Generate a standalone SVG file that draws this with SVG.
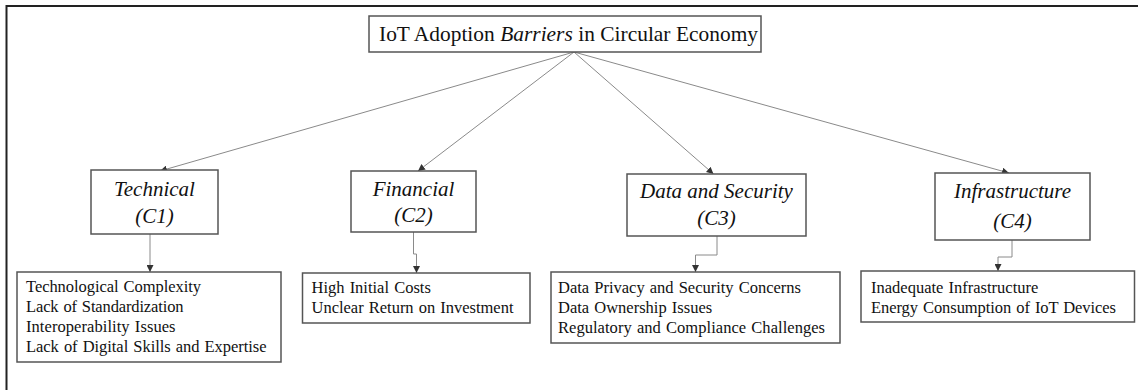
<svg xmlns="http://www.w3.org/2000/svg" width="1138" height="390" viewBox="0 0 1138 390">
<defs>
<style>
.box{fill:#fff;stroke:#555;stroke-width:1.5}
.frame{stroke:#222;stroke-width:2;fill:none}
.conn{stroke:#8a8a8a;stroke-width:1;fill:none}
.t{font-family:"Liberation Serif","Times New Roman",serif;fill:#111}
.title{font-size:21.4px}
.cat{font-size:21px;font-style:italic;text-anchor:middle}
.leaf{font-size:16.5px;word-spacing:1px}
</style>
<marker id="ah" viewBox="0 0 10 10" refX="10" refY="5" markerWidth="7" markerHeight="7" markerUnits="userSpaceOnUse" orient="auto">
<path d="M0,0 L10,5 L0,10 z" fill="#333"/>
</marker>
</defs>
<rect width="1138" height="390" fill="#fff"/>
<path class="frame" d="M6.5,390 V6 H1138"/>
<g id="connectors">
<line class="conn" x1="574" y1="52" x2="160" y2="171" marker-end="url(#ah)"/>
<line class="conn" x1="574" y1="52" x2="418" y2="171" marker-end="url(#ah)"/>
<line class="conn" x1="574" y1="52" x2="713.5" y2="174" marker-end="url(#ah)"/>
<line class="conn" x1="574" y1="52" x2="1009" y2="173" marker-end="url(#ah)"/>
<path class="conn" d="M150,234 V272" marker-end="url(#ah)"/>
<path class="conn" d="M413.5,232 V254 H416.5 V273" marker-end="url(#ah)"/>
<path class="conn" d="M717,236 V255 H695.5 V272" marker-end="url(#ah)"/>
<path class="conn" d="M1012,240 V257 H998 V271" marker-end="url(#ah)"/>
</g>
<g id="root">
<rect class="box" x="369" y="16" width="392" height="36"/>
<text class="t title" x="379" y="41" textLength="379" lengthAdjust="spacing">IoT Adoption <tspan font-style="italic">Barriers</tspan> in Circular Economy</text>
</g>
<g id="c1">
<rect class="box" x="91" y="170" width="127" height="64"/>
<text class="t cat" x="154.5" y="196">Technical</text>
<text class="t cat" x="154.5" y="223">(C1)</text>
</g>
<g id="c2">
<rect class="box" x="351" y="171" width="125" height="61"/>
<text class="t cat" x="413.5" y="196">Financial</text>
<text class="t cat" x="413.5" y="222">(C2)</text>
</g>
<g id="c3">
<rect class="box" x="627" y="174" width="179" height="62"/>
<text class="t cat" x="716.5" y="198">Data and Security</text>
<text class="t cat" x="716.5" y="225">(C3)</text>
</g>
<g id="c4">
<rect class="box" x="935" y="173" width="155" height="67"/>
<text class="t cat" x="1012.5" y="198">Infrastructure</text>
<text class="t cat" x="1012.5" y="228">(C4)</text>
</g>
<g id="l1">
<rect class="box" x="17" y="272" width="264" height="90"/>
<text class="t leaf" x="26" y="292" textLength="175" lengthAdjust="spacing">Technological Complexity</text>
<text class="t leaf" x="26" y="312" textLength="157.5" lengthAdjust="spacing">Lack of Standardization</text>
<text class="t leaf" x="26" y="332" textLength="149.5" lengthAdjust="spacing">Interoperability Issues</text>
<text class="t leaf" x="26" y="352" textLength="240.5" lengthAdjust="spacing">Lack of Digital Skills and Expertise</text>
</g>
<g id="l2">
<rect class="box" x="302.5" y="273" width="227.5" height="50"/>
<text class="t leaf" x="311.5" y="293">High Initial Costs</text>
<text class="t leaf" x="311.5" y="313" textLength="202" lengthAdjust="spacing">Unclear Return on Investment</text>
</g>
<g id="l3">
<rect class="box" x="551" y="272" width="289" height="71"/>
<text class="t leaf" x="558" y="293" textLength="243" lengthAdjust="spacing">Data Privacy and Security Concerns</text>
<text class="t leaf" x="558" y="313">Data Ownership Issues</text>
<text class="t leaf" x="558" y="333" textLength="267" lengthAdjust="spacing">Regulatory and Compliance Challenges</text>
</g>
<g id="l4">
<rect class="box" x="861" y="271" width="273.5" height="51"/>
<text class="t leaf" x="871" y="293">Inadequate Infrastructure</text>
<text class="t leaf" x="871" y="313" textLength="245" lengthAdjust="spacing">Energy Consumption of IoT Devices</text>
</g>
</svg>
